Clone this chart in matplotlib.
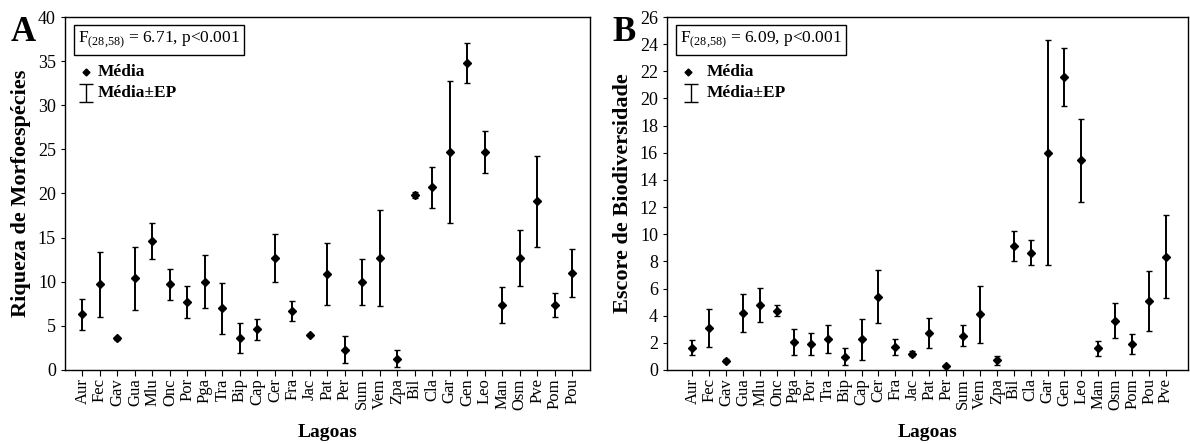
import numpy as np
import matplotlib
matplotlib.use("Agg")
import matplotlib.pyplot as plt

plt.rcParams['font.family'] = ['Liberation Serif', 'DejaVu Serif']
plt.rcParams['mathtext.fontset'] = 'custom'
plt.rcParams['mathtext.rm'] = 'Liberation Serif'

# painel A - riqueza de morfoespecies
lagoas_a = ['Aur', 'Fec', 'Gav', 'Gua', 'Mlu', 'Onc', 'Por', 'Pga', 'Tra', 'Bip',
            'Cap', 'Cer', 'Fra', 'Jac', 'Pat', 'Per', 'Sum', 'Vem', 'Zpa', 'Bil',
            'Cla', 'Gar', 'Gen', 'Leo', 'Man', 'Osm', 'Pve', 'Pom', 'Pou']
media_a = [6.3, 9.7, 3.6, 10.4, 14.6, 9.7, 7.7, 10.0, 7.0, 3.6,
           4.6, 12.7, 6.7, 4.0, 10.9, 2.3, 10.0, 12.7, 1.3, 19.8,
           20.7, 24.7, 34.8, 24.7, 7.35, 12.7, 19.1, 7.35, 11.0]
ep_a = [1.75, 3.7, 0.15, 3.55, 2.0, 1.75, 1.85, 3.0, 2.9, 1.7,
        1.2, 2.75, 1.15, 0.1, 3.5, 1.5, 2.6, 5.4, 0.95, 0.35,
        2.35, 8.1, 2.3, 2.4, 2.0, 3.2, 5.2, 1.4, 2.7]

# painel B - escore de biodiversidade
lagoas_b = ['Aur', 'Fec', 'Gav', 'Gua', 'Mlu', 'Onc', 'Pga', 'Por', 'Tra', 'Bip',
            'Cap', 'Cer', 'Fra', 'Jac', 'Pat', 'Per', 'Sum', 'Vem', 'Zpa', 'Bil',
            'Cla', 'Gar', 'Gen', 'Leo', 'Man', 'Osm', 'Pom', 'Pou', 'Pve']
media_b = [1.64, 3.07, 0.69, 4.22, 4.78, 4.37, 2.08, 1.91, 2.26, 0.98,
           2.26, 5.4, 1.72, 1.2, 2.75, 0.32, 2.53, 4.1, 0.72, 9.15,
           8.63, 16.0, 21.58, 15.45, 1.59, 3.63, 1.91, 5.1, 8.34]
ep_b = [0.57, 1.4, 0.1, 1.4, 1.25, 0.42, 0.95, 0.78, 1.04, 0.62,
        1.5, 1.97, 0.58, 0.2, 1.1, 0.05, 0.77, 2.1, 0.33, 1.1,
        0.92, 8.3, 2.17, 3.05, 0.57, 1.3, 0.73, 2.2, 3.07]

fig = plt.figure(figsize=(11.9, 4.44), dpi=100)
ax_a = fig.add_axes([0.0546, 0.1667, 0.441, 0.795])
ax_b = fig.add_axes([0.5605, 0.1667, 0.4378, 0.795])


def painel(ax, lagoas, media, ep, ymax, ystep, ylabel, letra, ftxt, xlim, letra_x, leg_dx):
    x = np.arange(len(lagoas))
    ax.errorbar(x, media, yerr=ep, fmt='D', color='black', ms=3.6,
                elinewidth=1.4, capsize=2.5, capthick=1.0)
    ax.set_xlim(*xlim)
    ax.set_ylim(0, ymax)
    ax.set_yticks(np.arange(0, ymax + 0.1, ystep))
    ax.set_xticks(x)
    ax.set_xticklabels(lagoas, rotation=90, fontsize=12)
    ax.tick_params(axis='y', labelsize=13, length=3, direction='out')
    ax.tick_params(axis='x', length=4, direction='out', pad=2)
    for s in ax.spines.values():
        s.set_linewidth(1.0)
    ax.set_ylabel(ylabel, fontsize=16, fontweight='bold', labelpad=5)
    ax.set_xlabel('Lagoas', fontsize=14, fontweight='bold', labelpad=10)
    ax.text(letra_x, 0.955, letra, transform=ax.transAxes, fontsize=25,
            fontweight='bold', ha='left', va='center')
    ax.text(0.025, 0.935, ftxt, transform=ax.transAxes, fontsize=12.5,
            ha='left', va='center',
            bbox=dict(boxstyle='square,pad=0.25', fc='white', ec='black', lw=1.0))
    # legenda
    ax.plot([0.04], [0.843], marker='D', ms=3.5, color='black',
            transform=ax.transAxes, clip_on=False)
    ax.text(0.062 + leg_dx, 0.843, 'Média', transform=ax.transAxes, fontsize=12.5,
            fontweight='bold', ha='left', va='center')
    ax.errorbar([0.04 + leg_dx / 2], [0.785], yerr=[0.025], fmt='none', ecolor='black',
                elinewidth=1.0, capsize=5, capthick=1.0, transform=ax.transAxes)
    ax.text(0.062 + leg_dx, 0.785, 'Média±EP', transform=ax.transAxes, fontsize=12.5,
            fontweight='bold', ha='left', va='center')


painel(ax_a, lagoas_a, media_a, ep_a, 40, 5, 'Riqueza de Morfoespécies', 'A',
       r'F$_{\mathrm{(28{,}58)}}$ = 6.71, p<0.001', (-1, 29), -0.103, 0.0)
painel(ax_b, lagoas_b, media_b, ep_b, 26, 2, 'Escore de Biodiversidade', 'B',
       r'F$_{\mathrm{(28{,}58)}}$ = 6.09, p<0.001', (-1.5, 29.3), -0.104, 0.014)

fig.savefig('out.png', dpi=100)
